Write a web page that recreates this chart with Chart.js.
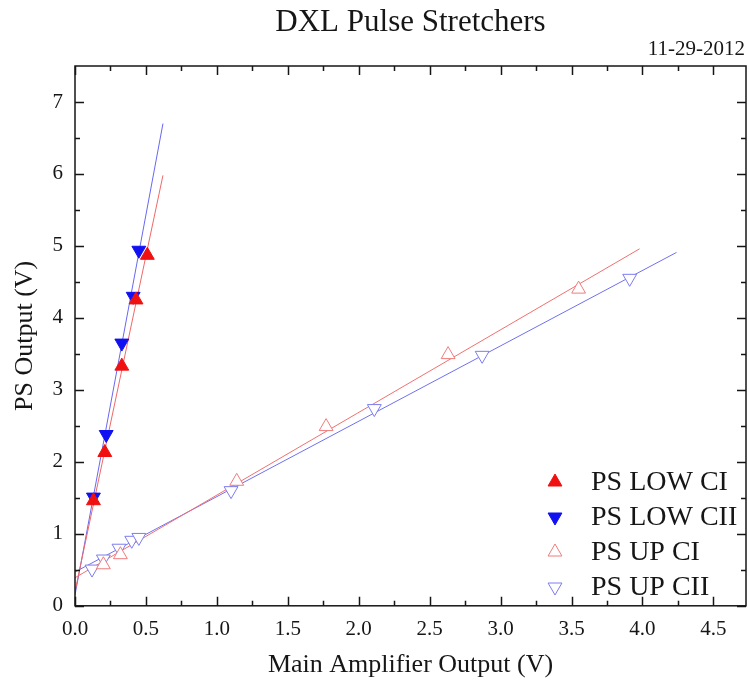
<!DOCTYPE html>
<html>
<head>
<meta charset="utf-8">
<title>DXL Pulse Stretchers</title>
<script src="https://cdn.jsdelivr.net/npm/chart.js@4.4.1/dist/chart.umd.min.js"></script>
<style>
  html, body { margin: 0; padding: 0; background: #fff; }
  canvas { display: block; }
</style>
</head>
<body>
<canvas id="psChart" width="749" height="685"></canvas>
<script>
// Main amplifier output (V) -> pulse stretcher output (V)
const lowCI_x = [0.13, 0.21, 0.33, 0.43, 0.51];
const lowCI_y = [1.46, 2.13, 3.33, 4.25, 4.87];
const lowCII_x = [0.13, 0.22, 0.33, 0.41, 0.45];
const lowCII_y = [1.51, 2.38, 3.65, 4.30, 4.94];
const upCI_x = [0.20, 0.32, 1.14, 1.77, 2.63, 3.55];
const upCI_y = [0.57, 0.71, 1.73, 2.49, 3.49, 4.40];
const upCII_x = [0.12, 0.20, 0.31, 0.40, 0.45, 1.10, 2.11, 2.87, 3.91];
const upCII_y = [0.51, 0.65, 0.80, 0.91, 0.95, 1.60, 2.74, 3.48, 4.55];

// linear fits (end points)
const lowCI_fitX = [0, 0.62];
const lowCI_fitY = [0.20, 5.98];
const lowCII_fitX = [0, 0.62];
const lowCII_fitY = [0.15, 6.70];
const upCI_fitX = [0, 3.98];
const upCI_fitY = [0.39, 4.96];
const upCII_fitX = [0, 4.24];
const upCII_fitY = [0.47, 4.91];

const xTicks = [0, 0.5, 1.0, 1.5, 2.0, 2.5, 3.0, 3.5, 4.0, 4.5];
const yTicks = [0, 1, 2, 3, 4, 5, 6, 7];
const seriesNames = ["PS LOW CI", "PS LOW CII", "PS UP CI", "PS UP CII"];

const serif = "'Liberation Serif', 'Times New Roman', serif";
const ink = "#161616";

function toPoints(xs, ys) {
    return xs.map((x, i) => ({ x: x, y: ys[i] }));
}

function markerSet(label, xs, ys, fill, stroke, rotation) {
    return {
        label: label,
        data: toPoints(xs, ys),
        pointStyle: "triangle",
        pointRadius: 8,
        pointRotation: rotation,
        pointBackgroundColor: fill,
        pointBorderColor: stroke,
        pointBorderWidth: 1,
        showLine: false
    };
}

function fitLine(xs, ys, color) {
    return {
        label: "",
        data: toPoints(xs, ys),
        showLine: true,
        pointRadius: 0,
        borderColor: color,
        borderWidth: 1,
        fill: false
    };
}

// box round the plot with inward ticks on all four sides
const framePlugin = {
    id: "frame",
    afterDatasetsDraw(chart) {
        const ctx = chart.ctx;
        const a = chart.chartArea;
        const xs = chart.scales.x, ys = chart.scales.y;
        ctx.save();
        ctx.strokeStyle = ink;
        ctx.lineWidth = 1.5;
        ctx.strokeRect(a.left, a.top, a.right - a.left, a.bottom - a.top);

        const xMinor = xTicks.map(v => v + 0.25).filter(v => v < xs.max);
        const yMinor = yTicks.map(v => v + 0.5).filter(v => v < ys.max);
        ctx.beginPath();
        xTicks.concat(xMinor).forEach(v => {
            const len = xTicks.includes(v) ? 9 : 5;
            const px = Math.round(xs.getPixelForValue(v)) + 0.5;
            ctx.moveTo(px, a.bottom); ctx.lineTo(px, a.bottom - len);
            ctx.moveTo(px, a.top); ctx.lineTo(px, a.top + len);
        });
        yTicks.concat(yMinor).forEach(v => {
            const len = yTicks.includes(v) ? 9 : 5;
            const py = Math.round(ys.getPixelForValue(v)) + 0.5;
            ctx.moveTo(a.left, py); ctx.lineTo(a.left + len, py);
            ctx.moveTo(a.right, py); ctx.lineTo(a.right - len, py);
        });
        ctx.stroke();
        ctx.restore();
    }
};

// title, date and the legend inside the plot
const textPlugin = {
    id: "texts",
    afterDraw(chart) {
        const ctx = chart.ctx;
        const a = chart.chartArea;
        ctx.save();
        ctx.fillStyle = ink;
        ctx.textBaseline = "middle";
        ctx.font = "31px " + serif;
        ctx.textAlign = "center";
        ctx.fillText("DXL Pulse Stretchers", (a.left + a.right) / 2, 23);
        ctx.font = "21px " + serif;
        ctx.textAlign = "right";
        ctx.fillText("11-29-2012", 745, 49);

        ctx.font = "28px " + serif;
        ctx.textAlign = "left";
        seriesNames.forEach((name, i) => {
            const ds = chart.data.datasets[i];
            const y = 482 + i * 35;
            ctx.fillStyle = ds.pointBackgroundColor;
            ctx.strokeStyle = ds.pointBorderColor;
            ctx.lineWidth = 1;
            Chart.helpers.drawPoint(ctx, {
                pointStyle: "triangle",
                radius: 8,
                rotation: ds.pointRotation,
                borderWidth: 1
            }, 555, y);
            ctx.fillStyle = ink;
            ctx.fillText(name, 591, y + 1);
        });
        ctx.restore();
    }
};

document.addEventListener("DOMContentLoaded", function () {
    const ctx = document.getElementById("psChart").getContext("2d");
    new Chart(ctx, {
        type: "scatter",
        data: {
            datasets: [
                markerSet(seriesNames[0], lowCI_x, lowCI_y, "#f01010", "#f01010", 0),
                markerSet(seriesNames[1], lowCII_x, lowCII_y, "#1010f0", "#1010f0", 180),
                markerSet(seriesNames[2], upCI_x, upCI_y, "#ffffff", "#f07c7c", 0),
                markerSet(seriesNames[3], upCII_x, upCII_y, "#ffffff", "#7c7cf0", 180),
                fitLine(lowCI_fitX, lowCI_fitY, "#f06868"),
                fitLine(lowCII_fitX, lowCII_fitY, "#6868f0"),
                fitLine(upCI_fitX, upCI_fitY, "#f07070"),
                fitLine(upCII_fitX, upCII_fitY, "#7070f0")
            ]
        },
        options: {
            responsive: false,
            animation: false,
            layout: { autoPadding: false, padding: { top: 66, right: 3, left: 10, bottom: 1 } },
            plugins: {
                legend: { display: false },
                tooltip: { enabled: false }
            },
            scales: {
                x: {
                    type: "linear",
                    min: 0,
                    max: 4.73,
                    afterBuildTicks: scale => { scale.ticks = xTicks.map(v => ({ value: v })); },
                    // labels sit well inside the box, no side padding needed
                    afterFit: scale => { scale.paddingLeft = 0; scale.paddingRight = 0; },
                    ticks: {
                        font: { family: serif, size: 21, lineHeight: 1 },
                        color: ink,
                        padding: 13,
                        maxRotation: 0,
                        callback: v => v.toFixed(1)
                    },
                    grid: { display: false, drawTicks: false },
                    border: { display: false },
                    title: {
                        display: true,
                        text: "Main Amplifier Output (V)",
                        font: { family: serif, size: 26 },
                        color: ink,
                        padding: { top: -3, bottom: 3 }
                    }
                },
                y: {
                    type: "linear",
                    min: 0,
                    max: 7.5,
                    afterBuildTicks: scale => { scale.ticks = yTicks.map(v => ({ value: v })); },
                    afterFit: scale => { scale.width = 65; },
                    ticks: {
                        font: { family: serif, size: 21 },
                        color: ink,
                        padding: 12,
                        callback: v => v.toFixed(0)
                    },
                    grid: { display: false, drawTicks: false },
                    border: { display: false },
                    title: {
                        display: true,
                        text: "PS Output (V)",
                        font: { family: serif, size: 26 },
                        color: ink,
                        padding: { top: 0, bottom: 0 }
                    }
                }
            }
        },
        plugins: [framePlugin, textPlugin]
    });
});
</script>
</body>
</html>
